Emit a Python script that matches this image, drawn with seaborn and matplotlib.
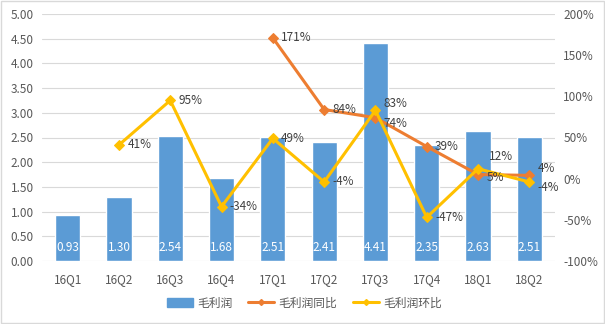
import numpy as np
import pandas as pd
import matplotlib
matplotlib.use("Agg")
import matplotlib.pyplot as plt
import seaborn as sns
from matplotlib.patches import Rectangle
from matplotlib.lines import Line2D

categories = ["16Q1", "16Q2", "16Q3", "16Q4", "17Q1", "17Q2", "17Q3", "17Q4", "18Q1", "18Q2"]
gross_profit = [0.93, 1.30, 2.54, 1.68, 2.51, 2.41, 4.41, 2.35, 2.63, 2.51]
yoy = [None, None, None, None, 171, 84, 74, 39, 5, 4]
qoq = [None, 41, 95, -34, 49, -4, 83, -47, 12, -4]
series_names = ["毛利润", "毛利润同比", "毛利润环比"]

sns.set_theme(style="white")
plt.rcParams['font.family'] = ['Noto Sans CJK SC', 'DejaVu Sans']

BAR = "#5B9BD5"
ORANGE = "#ED7D31"
YELLOW = "#FFC000"
TXT = "#595959"

fig = plt.figure(figsize=(6.05, 3.24), dpi=100)
ax = fig.add_axes([42/605, 1-261/324, (555-42)/605, (261-14)/324])
fig.patches.append(Rectangle((0.001, 0.002), 0.997, 0.995, transform=fig.transFigure,
                             fill=False, edgecolor="#D9D9D9", linewidth=1))

df = pd.DataFrame({"cat": categories, "val": gross_profit})
sns.barplot(data=df, x="cat", y="val", color=BAR, width=0.49, saturation=1, ax=ax, zorder=2)
ax.set_ylim(0, 5)
ax.set_yticks(np.arange(0, 5.01, 0.5))
ax.set_yticklabels([f"{v:.2f}" for v in np.arange(0, 5.01, 0.5)])
ax.yaxis.grid(True, color="#D9D9D9", linewidth=0.8, zorder=0)
ax.set_axisbelow(True)
ax.set_xlabel("")
ax.set_ylabel("")
for s in ax.spines.values():
    s.set_visible(False)
ax.tick_params(axis="both", length=0, labelsize=8.5, colors=TXT, pad=6)
ax.tick_params(axis="x", pad=9)
ax.set_xlim(-0.5, len(categories) - 0.5)

for i, v in enumerate(gross_profit):
    ax.text(i, 0.27, f"{v:.2f}", ha="center", va="center", color="white", fontsize=8.5, zorder=5)

ax2 = ax.twinx()
ax2.set_ylim(-100, 200)
ax2.set_yticks(np.arange(-100, 201, 50))
ax2.set_yticklabels([f"{int(v)}%" for v in np.arange(-100, 201, 50)])
for s in ax2.spines.values():
    s.set_visible(False)
ax2.tick_params(axis="y", length=0, labelsize=8.5, colors=TXT, pad=6)
ax2.grid(False)

# label offsets (points) to avoid collisions
yoy_off = {6: (6, -4), 8: (6, -2), 9: (6, 5)}
qoq_off = {6: (6, 5), 8: (8, 9), 9: (6, -4)}

def draw_line(vals, color, offs):
    idx = [i for i, v in enumerate(vals) if v is not None]
    ys = [vals[i] for i in idx]
    sns.lineplot(x=idx, y=ys, ax=ax2, color=color, linewidth=2.2, marker="D",
                 markersize=5.5, markeredgecolor=color, zorder=4)
    for i, y in zip(idx, ys):
        ax2.annotate(f"{y}%", (i, y), xytext=offs.get(i, (6, 0)), textcoords="offset points",
                     ha="left", va="center", fontsize=8.5, color="#404040", zorder=6)

draw_line(yoy, ORANGE, yoy_off)
draw_line(qoq, YELLOW, qoq_off)
ax2.set_xlim(-0.5, len(categories) - 0.5)

handles = [Rectangle((0, 0), 1, 1, color=BAR),
           Line2D([0], [0], color=ORANGE, lw=2.2, marker="D", markersize=3),
           Line2D([0], [0], color=YELLOW, lw=2.2, marker="D", markersize=3)]
fig.legend(handles, series_names, loc="center", bbox_to_anchor=(0.503, 1-303/324), ncol=3,
           frameon=False, fontsize=8.5, handlelength=2.2, handletextpad=0.4,
           columnspacing=1.3, labelcolor=TXT)

fig.savefig("out.png", dpi=100)
